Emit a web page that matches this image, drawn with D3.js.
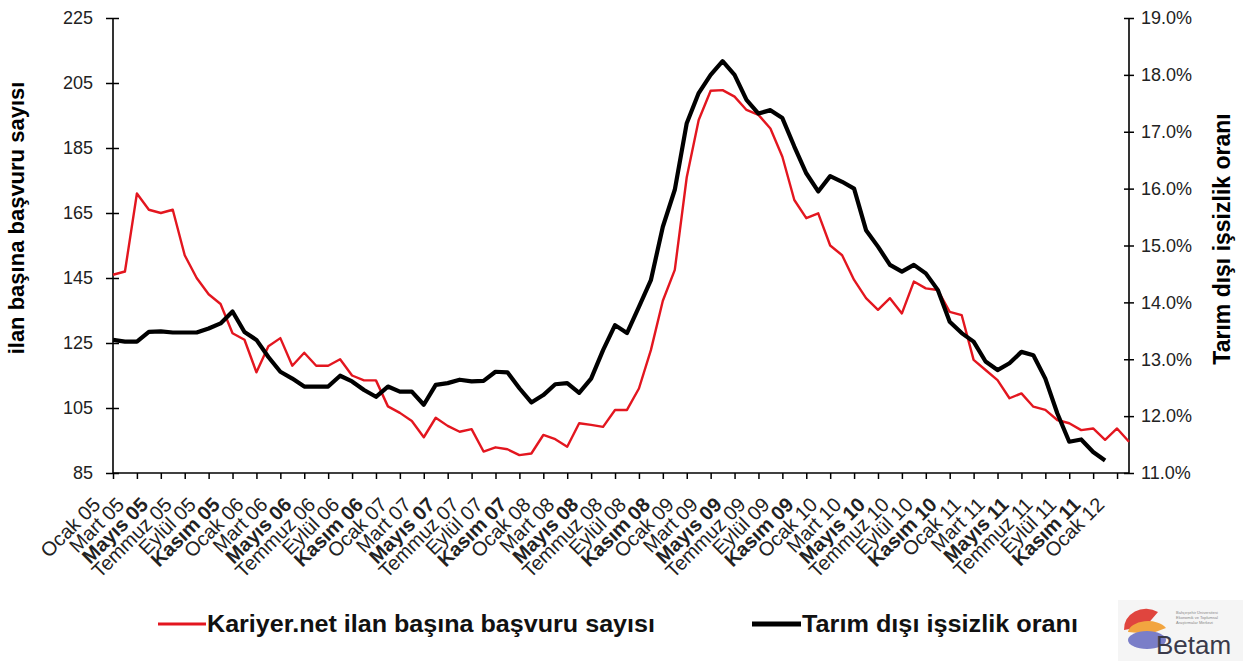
<!DOCTYPE html>
<html>
<head>
<meta charset="utf-8">
<script src="https://cdn.jsdelivr.net/npm/d3@7/dist/d3.min.js"></script>
<style>
  html, body { margin: 0; padding: 0; background: #fff; }
  svg { display: block; font-family: "Liberation Sans", Arial, sans-serif; }
</style>
</head>
<body>
<svg id="chart" width="1243" height="661"></svg>
<script>
// ---- Data (monthly, Ocak 05 .. Şubat 12) ----
const tickLabels = [
  "Ocak 05","Mart 05","Mayıs 05","Temmuz 05","Eylül 05","Kasım 05",
  "Ocak 06","Mart 06","Mayıs 06","Temmuz 06","Eylül 06","Kasım 06",
  "Ocak 07","Mart 07","Mayıs 07","Temmuz 07","Eylül 07","Kasım 07",
  "Ocak 08","Mart 08","Mayıs 08","Temmuz 08","Eylül 08","Kasım 08",
  "Ocak 09","Mart 09","Mayıs 09","Temmuz 09","Eylül 09","Kasım 09",
  "Ocak 10","Mart 10","Mayıs 10","Temmuz 10","Eylül 10","Kasım 10",
  "Ocak 11","Mart 11","Mayıs 11","Temmuz 11","Eylül 11","Kasım 11",
  "Ocak 12"
];
const boldMonths = ["Mayıs", "Kasım"];

// Kariyer.net ilan başına başvuru sayısı (left axis)
const applicationsPerAd = [
  146, 147, 171, 166, 165, 166, 152, 145, 140, 137, 128, 126,
  116, 124, 126.5, 118, 122, 118, 118, 120, 115, 113.5, 113.5, 105.5,
  103.5, 101, 96, 102, 99.5, 97.7, 98.5, 91.6, 92.9, 92.3, 90.5, 91,
  96.7, 95.4, 93.1, 100.3, 99.8, 99.2, 104.4, 104.4, 111, 122.8, 138, 147.5,
  176, 193.6, 202.6, 202.8, 200.8, 196.7, 195.2, 191, 182.3, 169, 163.4, 164.9,
  155, 152, 144.4, 138.8, 135.2, 138.8, 134.1, 143.9, 141.8, 141.3, 134.6, 133.6,
  119.8, 116.7, 113.6, 108, 109.5, 105.4, 104.4, 101.3, 100.3, 98.2, 98.7, 95.2,
  98.7, 94.6
];

// Tarım dışı işsizlik oranı (right axis, %)
const nonFarmUnemployment = [
  13.34, 13.31, 13.31, 13.48, 13.49, 13.47, 13.47, 13.47, 13.54, 13.63, 13.84, 13.48,
  13.34, 13.04, 12.78, 12.66, 12.52, 12.52, 12.52, 12.71, 12.61, 12.46, 12.34, 12.52,
  12.43, 12.43, 12.20, 12.55, 12.58, 12.64, 12.61, 12.62, 12.78, 12.77, 12.49, 12.24,
  12.37, 12.56, 12.58, 12.41, 12.66, 13.16, 13.60, 13.46, 13.92, 14.39, 15.33, 15.98,
  17.15, 17.68, 18.00, 18.24, 18.00, 17.56, 17.32, 17.38, 17.24, 16.74, 16.27, 15.95,
  16.22, 16.12, 16.00, 15.27, 14.98, 14.66, 14.54, 14.66, 14.51, 14.22, 13.66, 13.46,
  13.31, 12.96, 12.81, 12.93, 13.13, 13.07, 12.66, 12.05, 11.55, 11.59, 11.37, 11.22
];

const leftTicks = [85, 105, 125, 145, 165, 185, 205, 225];
const rightTicks = [11, 12, 13, 14, 15, 16, 17, 18, 19];

// ---- Layout ----
const svg = d3.select("#chart");
const plotLeft = 113, plotRight = 1129, plotTop = 18, plotBottom = 473;

const x = d3.scaleLinear().domain([0, 85]).range([plotLeft, plotRight]);
const yL = d3.scaleLinear().domain([85, 225]).range([plotBottom, plotTop]);
const yR = d3.scaleLinear().domain([11, 19]).range([plotBottom, plotTop]);

const textColor = "#222";
const fontFam = "Liberation Sans, Arial, sans-serif";

// Left axis
const gL = svg.append("g").attr("transform", `translate(${plotLeft},0)`)
  .call(d3.axisLeft(yL).tickValues(leftTicks).tickSizeOuter(0).tickSize(7));
gL.select(".domain").remove();
gL.selectAll(".tick line").attr("x1", 6).attr("x2", -7).attr("stroke", "#000").attr("stroke-width", 1.5);
gL.selectAll(".tick text").attr("x", -20).attr("font-size", 18)
  .attr("fill", textColor).attr("font-family", fontFam);

// Right axis
const gR = svg.append("g").attr("transform", `translate(${plotRight},0)`)
  .call(d3.axisRight(yR).tickValues(rightTicks).tickSizeOuter(0).tickFormat(d => d.toFixed(1) + "%"));
gR.select(".domain").remove();
gR.selectAll(".tick line").attr("x1", -5).attr("x2", 5).attr("stroke", "#000").attr("stroke-width", 1.5);
gR.selectAll(".tick text").attr("x", 12).attr("font-size", 18)
  .attr("fill", textColor).attr("font-family", fontFam);

// Bottom axis
const gB = svg.append("g").attr("transform", `translate(0,${plotBottom})`)
  .call(d3.axisBottom(x).tickValues(d3.range(0, 85, 2)).tickSizeOuter(0).tickSize(6)
    .tickFormat(i => tickLabels[i / 2]));
gB.select(".domain").remove();
gB.selectAll(".tick line").attr("stroke", "#000").attr("stroke-width", 1.5);
gB.selectAll(".tick text")
  .attr("x", 0).attr("y", 0).attr("dy", 0)
  .attr("transform", "translate(-12,33) rotate(-45)")
  .attr("text-anchor", "end")
  .attr("font-size", 20)
  .attr("fill", textColor)
  .attr("font-family", fontFam)
  .attr("font-weight", d => boldMonths.includes(tickLabels[d / 2].split(" ")[0]) ? "bold" : "normal");

// Axis lines
const axisLines = svg.append("g").attr("stroke", "#000").attr("stroke-width", 1.6);
axisLines.append("line").attr("x1", plotLeft).attr("x2", plotLeft).attr("y1", plotTop).attr("y2", plotBottom);
axisLines.append("line").attr("x1", plotRight).attr("x2", plotRight).attr("y1", plotTop).attr("y2", plotBottom);
axisLines.append("line").attr("x1", plotLeft).attr("x2", plotRight).attr("y1", plotBottom).attr("y2", plotBottom);

// Lines
const lineL = d3.line().x((d, i) => x(i)).y(d => yL(d));
const lineR = d3.line().x((d, i) => x(i)).y(d => yR(d));

svg.append("path").datum(applicationsPerAd)
  .attr("d", lineL).attr("fill", "none").attr("stroke", "#e3161f")
  .attr("stroke-width", 2.4).attr("stroke-linejoin", "round");

svg.append("path").datum(nonFarmUnemployment)
  .attr("d", lineR).attr("fill", "none").attr("stroke", "#000")
  .attr("stroke-width", 4.2).attr("stroke-linejoin", "round");

// Axis titles
svg.append("text")
  .attr("transform", "translate(24,218) rotate(-90)")
  .attr("text-anchor", "middle")
  .attr("font-size", 22).attr("font-weight", "bold").attr("fill", "#000")
  .text("ilan başına başvuru sayısı");

svg.append("text")
  .attr("transform", "translate(1230,239) rotate(-90)")
  .attr("text-anchor", "middle")
  .attr("font-size", 23).attr("font-weight", "bold").attr("fill", "#000")
  .text("Tarım dışı işsizlik oranı");

// Legend
const legend = svg.append("g");
legend.append("line").attr("x1", 158).attr("x2", 206).attr("y1", 624).attr("y2", 624)
  .attr("stroke", "#e3161f").attr("stroke-width", 3);
legend.append("text").attr("x", 207).attr("y", 632)
  .attr("font-size", 23).attr("font-weight", "bold").attr("fill", "#111")
  .attr("textLength", 448).attr("lengthAdjust", "spacingAndGlyphs")
  .text("Kariyer.net ilan başına başvuru sayısı");
legend.append("line").attr("x1", 752).attr("x2", 801).attr("y1", 624).attr("y2", 624)
  .attr("stroke", "#000").attr("stroke-width", 5);
legend.append("text").attr("x", 802).attr("y", 632)
  .attr("font-size", 23).attr("font-weight", "bold").attr("fill", "#111")
  .attr("textLength", 276).attr("lengthAdjust", "spacingAndGlyphs")
  .text("Tarım dışı işsizlik oranı");

// Logo (approximation)
const logo = svg.append("g");
logo.append("rect").attr("x", 1118).attr("y", 600).attr("width", 125).attr("height", 61).attr("fill", "#f5f5f5");
logo.append("path").attr("d", "M1124,630 A22,20 0 0 1 1158,612 L1146,626 Z").attr("fill", "#e0453e");
logo.append("path").attr("d", "M1128,632 A20,12 0 0 1 1166,628 L1150,634 Z").attr("fill", "#f2a540");
logo.append("ellipse").attr("cx", 1147).attr("cy", 640).attr("rx", 19).attr("ry", 9).attr("fill", "#7a7ec8");
logo.append("text").attr("x", 1176).attr("y", 614).attr("font-size", 4).attr("fill", "#888").text("Bahçeşehir Üniversitesi");
logo.append("text").attr("x", 1176).attr("y", 619).attr("font-size", 4).attr("fill", "#888").text("Ekonomik ve Toplumsal");
logo.append("text").attr("x", 1176).attr("y", 624).attr("font-size", 4).attr("fill", "#888").text("Araştırmalar Merkezi");
logo.append("text").attr("x", 1156).attr("y", 654).attr("font-size", 26).attr("fill", "#3a3a4a")
  .text("Betam");
</script>
</body>
</html>
